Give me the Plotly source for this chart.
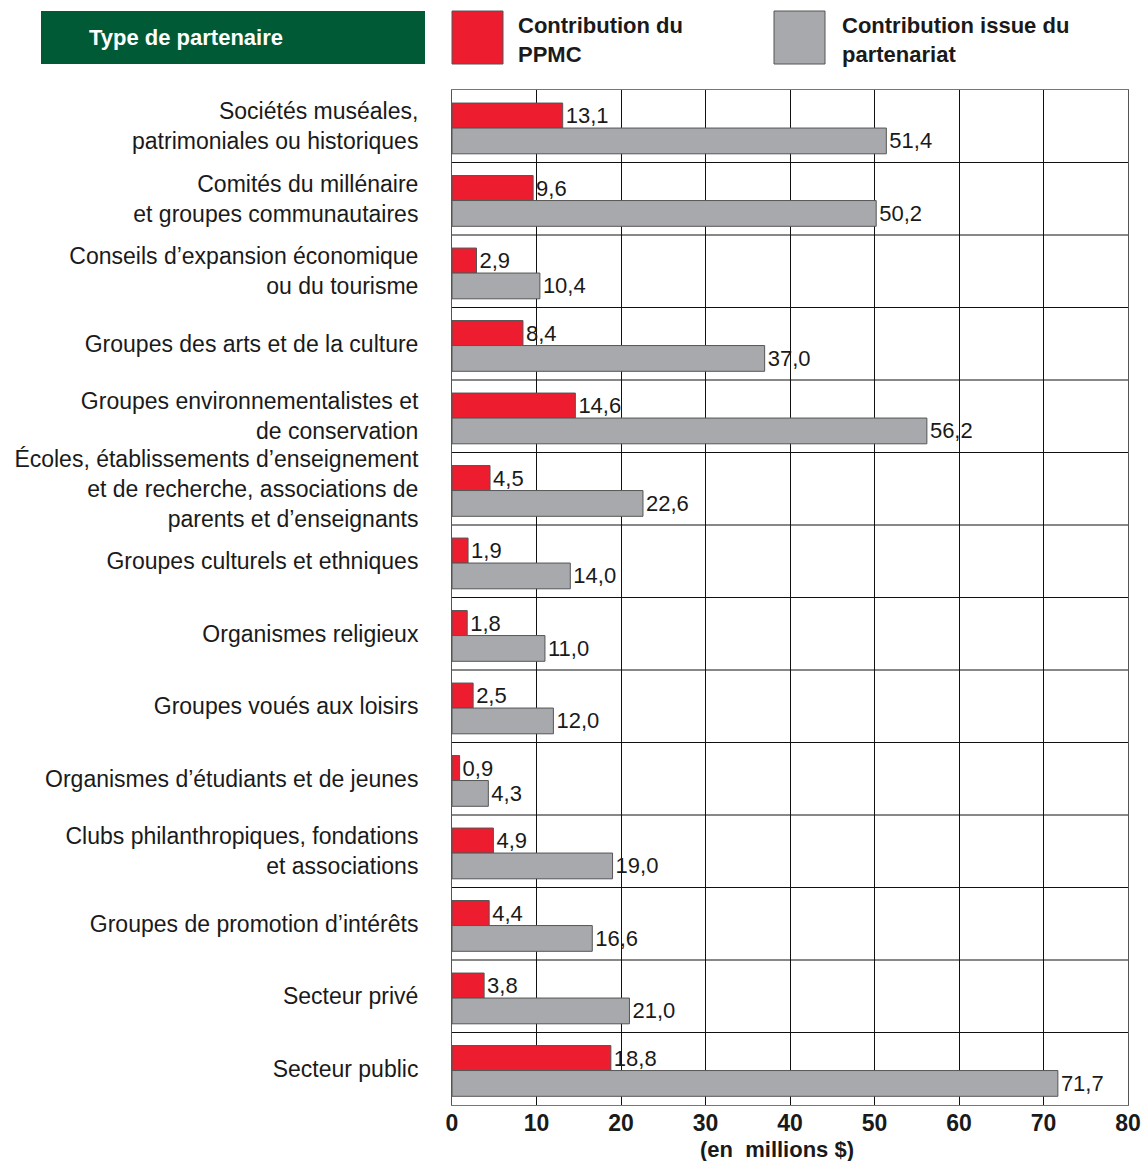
import plotly.graph_objects as go

categories = [
    "Sociétés muséales,<br>patrimoniales ou historiques",
    "Comités du millénaire<br>et groupes communautaires",
    "Conseils d’expansion économique<br>ou du tourisme",
    "Groupes des arts et de la culture",
    "Groupes environnementalistes et<br>de conservation",
    "Écoles, établissements d’enseignement<br>et de recherche, associations de<br>parents et d’enseignants",
    "Groupes culturels et ethniques",
    "Organismes religieux",
    "Groupes voués aux loisirs",
    "Organismes d’étudiants et de jeunes",
    "Clubs philanthropiques, fondations<br>et associations",
    "Groupes de promotion d’intérêts",
    "Secteur privé",
    "Secteur public",
]
ppmc = [13.1, 9.6, 2.9, 8.4, 14.6, 4.5, 1.9, 1.8, 2.5, 0.9, 4.9, 4.4, 3.8, 18.8]
partenariat = [51.4, 50.2, 10.4, 37.0, 56.2, 22.6, 14.0, 11.0, 12.0, 4.3, 19.0, 16.6, 21.0, 71.7]
x_ticks = [0, 10, 20, 30, 40, 50, 60, 70, 80]

RED = "#ED1C2E"
GRAY = "#A7A9AC"
GREEN = "#005A36"
FONT = "Liberation Sans, Arial, sans-serif"
TXT = "#1a1a1a"

W, H = 1148, 1161
ML, MR, MT, MB = 452, 20, 90, 56
PW, PH = W - ML - MR, H - MT - MB


def px(x):
    return (x - ML) / PW


def py(y):
    return (H - MB - y) / PH


def fmt(v):
    return f"{v:.1f}".replace(".", ",")


fig = go.Figure()
fig.add_trace(go.Bar(
    y=categories, x=ppmc, orientation="h", name="Contribution du PPMC",
    offset=-0.32, width=0.345,
    marker=dict(color=RED, line=dict(color="#555555", width=1)),
    text=[fmt(v) for v in ppmc], textposition="outside", cliponaxis=False,
    textfont=dict(size=22, color=TXT, family=FONT),
))
fig.add_trace(go.Bar(
    y=categories, x=partenariat, orientation="h", name="Contribution issue du partenariat",
    offset=0.025, width=0.355,
    marker=dict(color=GRAY, line=dict(color="#555555", width=1)),
    text=[fmt(v) for v in partenariat], textposition="outside", cliponaxis=False,
    textfont=dict(size=22, color=TXT, family=FONT),
))

shapes = []
n = len(categories)
for i in range(1, n):
    shapes.append(dict(type="line", xref="paper", yref="y", x0=0, x1=1,
                       y0=i - 0.5, y1=i - 0.5, line=dict(color="#111111", width=1), layer="above"))
# header box and legend swatches
shapes.append(dict(type="rect", xref="paper", yref="paper", x0=px(41), x1=px(425),
                   y0=py(64), y1=py(11), fillcolor=GREEN, line=dict(width=0)))
shapes.append(dict(type="rect", xref="paper", yref="paper", x0=px(452), x1=px(503),
                   y0=py(64), y1=py(11), fillcolor=RED, line=dict(color="#555555", width=1)))
shapes.append(dict(type="rect", xref="paper", yref="paper", x0=px(774), x1=px(825),
                   y0=py(64), y1=py(11), fillcolor=GRAY, line=dict(color="#555555", width=1)))

annotations = [
    dict(xref="paper", yref="paper", x=px(87), y=py(37),
         text="<b>Type de partenaire</b>", showarrow=False, xanchor="left", yanchor="middle",
         font=dict(size=22, color="white", family=FONT)),
    dict(xref="paper", yref="paper", x=px(516), y=py(40),
         text="<b>Contribution du<br>PPMC</b>", showarrow=False, xanchor="left", yanchor="middle",
         align="left", font=dict(size=22, color=TXT, family=FONT)),
    dict(xref="paper", yref="paper", x=px(840), y=py(40),
         text="<b>Contribution issue du<br>partenariat</b>", showarrow=False, xanchor="left", yanchor="middle",
         align="left", font=dict(size=22, color=TXT, family=FONT)),
    dict(xref="paper", yref="paper", x=px(777), y=py(1149),
         text="<b>(en  millions $)</b>", showarrow=False, xanchor="center", yanchor="middle",
         font=dict(size=22, color=TXT, family=FONT)),
]

fig.update_layout(
    width=W, height=H,
    margin=dict(l=ML, r=MR, t=MT, b=MB, autoexpand=False),
    paper_bgcolor="white", plot_bgcolor="white",
    barmode="overlay",
    showlegend=False,
    font=dict(family=FONT, color=TXT),
    shapes=shapes, annotations=annotations,
)
fig.update_xaxes(
    range=[0, 80], tickvals=x_ticks, ticktext=[str(t) for t in x_ticks],
    showgrid=True, gridcolor="#111111", gridwidth=1,
    showline=True, linecolor="#777777", linewidth=1, mirror=True,
    zeroline=False, ticks="", automargin=False, ticklabelstandoff=-3,
    tickfont=dict(size=23, family=FONT, color=TXT, weight="bold"),
)
fig.update_yaxes(
    autorange="reversed", showgrid=False, automargin=False,
    showline=True, linecolor="#555555", linewidth=1, mirror=True,
    ticks="", ticklabelstandoff=28,
    tickfont=dict(size=23, family=FONT, color=TXT),
)

fig.write_html("out.html", config={"displayModeBar": False},
               post_script="document.body.style.margin='0';")
